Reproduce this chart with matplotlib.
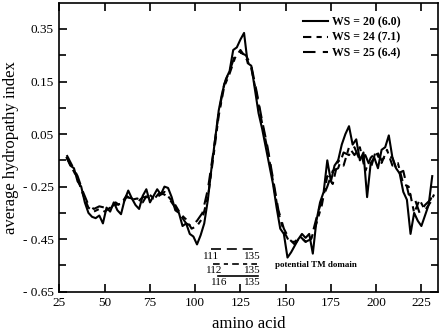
import matplotlib
matplotlib.use("Agg")
import matplotlib.pyplot as plt
from matplotlib.ticker import FixedLocator, FixedFormatter

plt.rcParams['font.family'] = ['Liberation Serif', 'DejaVu Serif']

# ---- data ----
x_ws20 = [29,31,33,35,37,39,41,43,45,47,49,51,53,55,57,59,61,63,65,67,69,71,73,75,77,79,81,83,85,87,89,91,93,95,97,99,
          101,103,105,107,109,111,113,115,117,119,121,123,125,127,129,131,133,135,137,139,141,143,145,147,149,151,153,155,
          157,159,161,163,165,167,169,171,173,175,177,179,181,183,185,187,189,191,193,195,197,199,201,203,205,207,209,211,
          213,215,217,219,221,223,225,227,229,231]
y_ws20 = [-0.14,-0.17,-0.18,-0.23,-0.25,-0.31,-0.35,-0.365,-0.37,-0.36,-0.39,-0.33,-0.345,-0.31,-0.34,-0.355,-0.30,-0.265,
          -0.295,-0.32,-0.335,-0.285,-0.26,-0.31,-0.285,-0.26,-0.28,-0.25,-0.255,-0.29,-0.34,-0.35,-0.40,-0.39,-0.43,-0.44,
          -0.47,-0.435,-0.39,-0.30,-0.18,-0.07,0.04,0.11,0.16,0.19,0.27,0.28,0.31,0.335,0.22,0.21,0.12,0.03,-0.03,-0.10,
          -0.17,-0.24,-0.33,-0.41,-0.43,-0.52,-0.50,-0.475,-0.45,-0.43,-0.445,-0.43,-0.505,-0.38,-0.31,-0.27,-0.15,-0.23,
          -0.17,-0.15,-0.09,-0.05,-0.02,-0.09,-0.07,-0.15,-0.12,-0.29,-0.16,-0.14,-0.18,-0.11,-0.10,-0.055,-0.14,-0.18,
          -0.20,-0.27,-0.30,-0.43,-0.35,-0.38,-0.40,-0.36,-0.32,-0.21]

x_ws24 = [29,32,35,38,41,44,47,50,53,56,59,62,65,68,71,74,77,80,83,86,89,92,95,98,101,104,107,110,113,116,119,122,125,
          128,131,134,137,140,143,146,149,152,155,158,161,164,167,170,173,176,179,182,185,188,191,194,197,200,203,206,
          209,212,215,218,221,224,227,230,232]
y_ws24 = [-0.14,-0.18,-0.22,-0.28,-0.33,-0.345,-0.335,-0.345,-0.33,-0.32,-0.315,-0.285,-0.30,-0.295,-0.31,-0.275,-0.295,
          -0.285,-0.27,-0.295,-0.32,-0.355,-0.375,-0.41,-0.40,-0.37,-0.29,-0.14,0.02,0.13,0.18,0.24,0.27,0.24,0.20,0.10,
          -0.01,-0.11,-0.23,-0.35,-0.42,-0.46,-0.46,-0.44,-0.46,-0.45,-0.39,-0.32,-0.21,-0.24,-0.15,-0.17,-0.10,-0.13,
          -0.10,-0.19,-0.14,-0.12,-0.16,-0.11,-0.17,-0.16,-0.24,-0.25,-0.35,-0.30,-0.34,-0.31,-0.28]

x_ws25 = [29,32,35,38,41,44,47,50,53,56,59,62,65,68,71,74,77,80,83,86,89,92,95,98,101,104,107,110,113,116,119,122,125,
          128,131,134,137,140,143,146,149,152,155,158,161,164,167,170,173,176,179,182,185,188,191,194,197,200,203,206,
          209,212,215,218,221,224,227,230,232]
y_ws25 = [-0.13,-0.17,-0.21,-0.27,-0.32,-0.335,-0.325,-0.33,-0.335,-0.31,-0.325,-0.29,-0.295,-0.31,-0.29,-0.29,-0.30,
          -0.275,-0.28,-0.30,-0.33,-0.36,-0.39,-0.40,-0.38,-0.35,-0.26,-0.12,0.03,0.14,0.19,0.25,0.26,0.25,0.21,0.11,0.00,
          -0.10,-0.22,-0.34,-0.41,-0.45,-0.47,-0.44,-0.46,-0.45,-0.37,-0.30,-0.25,-0.19,-0.18,-0.12,-0.13,-0.10,-0.15,
          -0.13,-0.18,-0.11,-0.15,-0.13,-0.14,-0.20,-0.19,-0.28,-0.29,-0.35,-0.32,-0.30,-0.27]

labels = ["WS = 20 (6.0)", "WS = 24 (7.1)", "WS = 25 (6.4)"]
xticks = [25, 50, 75, 100, 125, 150, 175, 200, 225]
yticks = [-0.65, -0.45, -0.25, -0.05, 0.15, 0.35]
ytick_labels = ["- 0.65", "- 0.45", "- 0.25", "0.05", "0.15", "0.35"]

# TM domain segments
seg_starts = [111, 112, 116]
seg_ends = [135, 135, 135]

# ---- figure ----
fig = plt.figure(figsize=(4.42, 3.31), dpi=100)
ax = fig.add_axes([0.1346, 0.1187, 0.8556, 0.8731])

ax.plot(x_ws20, y_ws20, color='black', lw=1.5, label=labels[0])
ax.plot(x_ws24, y_ws24, color='black', lw=1.5, dashes=(4, 2.5, 2.5, 2.5), label=labels[1])
ax.plot(x_ws25, y_ws25, color='black', lw=1.5, dashes=(6, 3.5), label=labels[2])

ax.set_xlim(25, 234)
ax.set_ylim(-0.65, 0.45)

ax.xaxis.set_major_locator(FixedLocator(xticks))
ax.yaxis.set_major_locator(FixedLocator(yticks))
ax.yaxis.set_major_formatter(FixedFormatter(ytick_labels))
ax.yaxis.set_minor_locator(FixedLocator([-0.55, -0.35, -0.15, 0.05, 0.25]))
ax.tick_params(which='both', direction='in', top=True, right=True, width=1.2, labelsize=9.5, pad=4)
ax.tick_params(which='major', length=6)
ax.tick_params(which='minor', length=5)
for s in ax.spines.values():
    s.set_linewidth(1.2)

ax.set_xlabel("amino acid", fontsize=12, labelpad=5)
ax.set_ylabel("average hydropathy index", fontsize=12, labelpad=3)

ax.legend(loc='upper right', bbox_to_anchor=(0.93, 0.99), frameon=False,
          prop={'weight': 'bold', 'size': 8.5}, handlelength=2.1, handletextpad=0.35,
          labelspacing=0.3)

# TM domain annotation
seg_styles = [dict(dashes=(6, 3.5)), dict(dashes=(4, 2.5, 2.5, 2.5)), dict(linestyle='-')]
seg_y = [-0.489, -0.546, -0.589]
lab_y = [-0.517, -0.568, -0.616]
seg_x0 = [108.6, 110.0, 112.7]
seg_x1 = [134.0, 134.0, 134.8]
for i in range(3):
    ax.plot([seg_x0[i], seg_x1[i]], [seg_y[i]] * 2, color='black', lw=1.2, **seg_styles[i])
    ax.text(seg_x0[i] + (0.3 if i < 2 else 0.6), lab_y[i], str(seg_starts[i]), fontsize=8,
            ha='center', va='center')
    ax.text(131.5, lab_y[i], str(seg_ends[i]), fontsize=8, ha='center', va='center')
ax.text(144.3, -0.55, "potential TM domain", fontsize=6.5, weight='bold', ha='left', va='center')

fig.savefig("out.png", dpi=100)
